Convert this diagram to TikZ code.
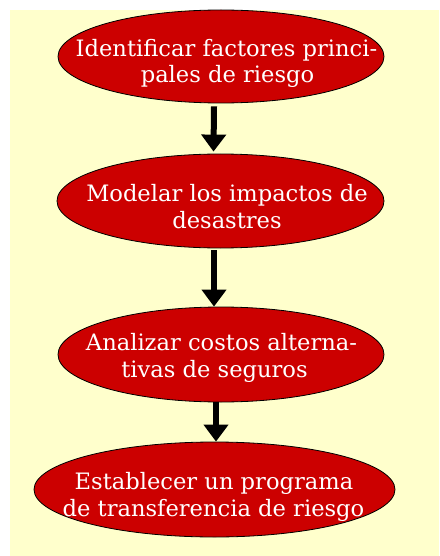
\documentclass[tikz,border=0pt]{standalone}
\usepackage{fontspec}
\setmainfont{DejaVu Serif}
\usetikzlibrary{shapes.geometric,arrows.meta}
\definecolor{bgyellow}{HTML}{FFFFCC}
\definecolor{boxred}{HTML}{CC0000}
\tikzset{
  stepell/.style={ellipse, draw=black, line width=0.8pt, fill=boxred, inner sep=0pt},
  steptxt/.style={anchor=base, text=white, inner sep=0pt, font=\fontsize{22.6}{27}\selectfont},
  flowarrow/.style={line width=6pt, -{Triangle[width=24pt,length=17pt]}}
}
\begin{document}
\begin{tikzpicture}[x=1pt,y=-1pt]
\useasboundingbox (0,0) rectangle (439,556);
\fill[bgyellow] (10,10) rectangle (439,556);
\node[stepell, minimum width=326pt, minimum height=93pt] (e1) at (221,56.5) {};
\node[stepell, minimum width=327pt, minimum height=94pt] (e2) at (220.5,201) {};
\node[stepell, minimum width=326pt, minimum height=95pt] (e3) at (221,354.5) {};
\node[stepell, minimum width=361pt, minimum height=95pt] (e4) at (214.5,489.5) {};
\node[steptxt] (t1a) at (226.5,56.7) {Identificar factores princi-};
\node[steptxt] (t1b) at (227.5,82.7) {pales de riesgo};
\node[steptxt] (t2a) at (227,201) {Modelar los impactos de};
\node[steptxt] (t2b) at (227,228) {desastres};
\node[steptxt] (t3a) at (221.5,350) {Analizar costos alterna-};
\node[steptxt] (t3b) at (214.5,377) {tivas de seguros};
\node[steptxt] (t4a) at (214,489) {Establecer un programa};
\node[steptxt] (t4b) at (213.5,516.7) {de transferencia de riesgo};
\draw[flowarrow] ([xshift=-7pt,yshift=-3pt]e1.south) -- ([xshift=-7pt,yshift=2pt]e2.north);
\draw[flowarrow] ([xshift=-6.5pt,yshift=-2pt]e2.south) -- ([xshift=-7pt,yshift=0pt]e3.north);
\draw[flowarrow] ([xshift=-5pt,yshift=0pt]e3.south) -- ([xshift=1.5pt,yshift=0pt]e4.north);
\end{tikzpicture}
\end{document}
